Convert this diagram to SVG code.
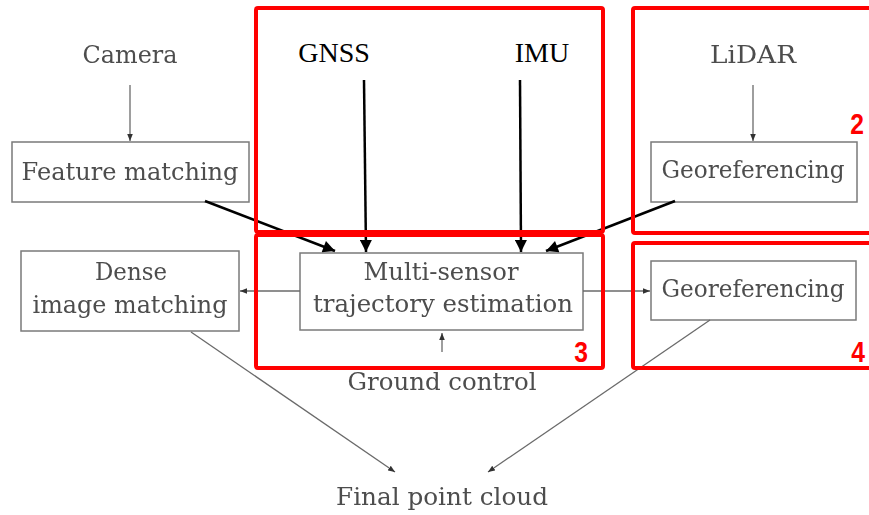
<svg xmlns="http://www.w3.org/2000/svg" width="869" height="515" viewBox="0 0 869 515">
  <style>
    .box { fill: #ffffff; stroke: #7a7a7a; stroke-width: 1.5; }
    .lbl { font-family: "DejaVu Serif", "Liberation Serif", serif; font-size: 25px; fill: #4d4d4d; text-anchor: middle; }
    .src { font-family: "Liberation Serif", "Times New Roman", serif; font-size: 28px; fill: #000000; text-anchor: middle; }
    .thin { stroke: #6a6a6a; stroke-width: 1.3; fill: none; marker-end: url(#gray-head); }
    .bold { stroke: #000000; stroke-width: 2.5; fill: none; marker-end: url(#black-head); }
    .hl { fill: none; stroke: #ff0000; stroke-width: 4; }
    .num { font-family: "Liberation Sans", Arial, sans-serif; font-weight: bold; font-size: 29px; fill: #ff0000; text-anchor: middle; }
  </style>
  <defs>
    <marker id="gray-head" viewBox="0 0 10 10" refX="10" refY="5" markerWidth="7" markerHeight="7" markerUnits="userSpaceOnUse" orient="auto">
      <path d="M0,1 L10,5 L0,9 Z" fill="#333333"/>
    </marker>
    <marker id="black-head" viewBox="0 0 10 10" refX="10" refY="5" markerWidth="13" markerHeight="12" markerUnits="userSpaceOnUse" orient="auto">
      <path d="M0,0 L10,5 L0,10 Z" fill="#000000"/>
    </marker>
    <filter id="soft" x="-5%" y="-5%" width="110%" height="110%">
      <feGaussianBlur stdDeviation="0.45"/>
    </filter>
  </defs>

  <rect width="869" height="515" fill="#ffffff"/>

  <!-- flow chart (soft grey layer) -->
  <g filter="url(#soft)">
    <g id="camera">
      <text class="lbl" x="130" y="63" textLength="95" lengthAdjust="spacingAndGlyphs">Camera</text>
    </g>
    <g id="feature-matching">
      <rect class="box" x="12" y="142" width="237" height="60"/>
      <text class="lbl" x="130" y="180" textLength="217" lengthAdjust="spacingAndGlyphs">Feature matching</text>
    </g>
    <g id="lidar">
      <text class="lbl" x="753" y="63" textLength="86" lengthAdjust="spacingAndGlyphs">LiDAR</text>
    </g>
    <g id="georeferencing-lidar">
      <rect class="box" x="651" y="142" width="206" height="60"/>
      <text class="lbl" x="753" y="178" textLength="183" lengthAdjust="spacingAndGlyphs">Georeferencing</text>
    </g>
    <g id="dense-matching">
      <rect class="box" x="21" y="251" width="218" height="80"/>
      <text class="lbl" x="131" y="280" textLength="72" lengthAdjust="spacingAndGlyphs">Dense</text>
      <text class="lbl" x="130" y="313" textLength="195" lengthAdjust="spacingAndGlyphs">image matching</text>
    </g>
    <g id="trajectory-estimation">
      <rect class="box" x="300" y="253" width="283" height="77"/>
      <text class="lbl" x="441" y="280" textLength="155" lengthAdjust="spacingAndGlyphs">Multi-sensor</text>
      <text class="lbl" x="443" y="312" textLength="260" lengthAdjust="spacingAndGlyphs">trajectory estimation</text>
    </g>
    <g id="georeferencing-output">
      <rect class="box" x="651" y="261" width="205" height="59"/>
      <text class="lbl" x="753" y="297" textLength="183" lengthAdjust="spacingAndGlyphs">Georeferencing</text>
    </g>
    <g id="ground-control">
      <text class="lbl" x="442" y="390" textLength="189" lengthAdjust="spacingAndGlyphs">Ground control</text>
    </g>
    <g id="final-point-cloud">
      <text class="lbl" x="442" y="505" textLength="212" lengthAdjust="spacingAndGlyphs">Final point cloud</text>
    </g>

    <g id="grey-connectors">
      <line class="thin" x1="130" y1="85" x2="130" y2="141"/>
      <line class="thin" x1="753" y1="85" x2="753" y2="141"/>
      <line class="thin" x1="300" y1="291" x2="240" y2="291"/>
      <line class="thin" x1="583" y1="291" x2="650" y2="291"/>
      <line class="thin" x1="442" y1="352" x2="442" y2="333"/>
      <line class="thin" x1="191" y1="332" x2="395" y2="472"/>
      <line class="thin" x1="710" y1="320" x2="488" y2="472"/>
    </g>
  </g>

  <!-- sensor inputs -->
  <g id="gnss">
    <text class="src" x="334" y="62">GNSS</text>
  </g>
  <g id="imu">
    <text class="src" x="542" y="62">IMU</text>
  </g>

  <g id="connectors">
    <line class="bold" x1="364" y1="80" x2="366" y2="252"/>
    <line class="bold" x1="520" y1="80" x2="521" y2="252"/>
    <line class="bold" x1="205" y1="201" x2="335" y2="251"/>
    <line class="bold" x1="675" y1="201" x2="546" y2="251"/>
  </g>

  <!-- highlighted regions -->
  <g id="highlights">
    <rect class="hl" x="256" y="8" width="347" height="224" rx="2"/>
    <rect class="hl" x="256" y="235" width="347" height="133" rx="2"/>
    <rect class="hl" x="633" y="8" width="242" height="225" rx="2"/>
    <rect class="hl" x="633" y="243" width="242" height="125" rx="2"/>
    <text class="num" x="857" y="134" transform="translate(857 134) scale(0.85 1) translate(-857 -134)">2</text>
    <text class="num" x="581" y="362" transform="translate(581 362) scale(0.85 1) translate(-581 -362)">3</text>
    <text class="num" x="858" y="362" transform="translate(858 362) scale(0.85 1) translate(-858 -362)">4</text>
  </g>
</svg>
